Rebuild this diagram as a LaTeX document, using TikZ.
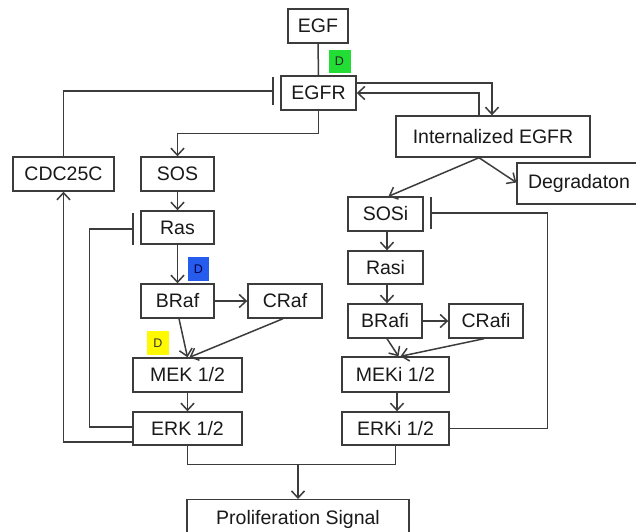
\documentclass[tikz,border=0pt]{standalone}
\usepackage{fontspec}
\setmainfont{Liberation Sans}
\usetikzlibrary{arrows.meta,calc}
\definecolor{ln}{RGB}{60,60,60}
\definecolor{dgreen}{RGB}{34,221,51}
\definecolor{dblue}{RGB}{38,92,238}
\definecolor{dyellow}{RGB}{255,250,0}
\tikzset{
  box/.style={draw=ln, line width=1.4pt, rectangle, inner sep=0pt, fill=white,
    font=\fontsize{19.5}{22}\selectfont, text=black!90},
  conn/.style={draw=ln, line width=1.5pt},
  arr/.style={conn, -{Straight Barb[length=7pt,width=13pt,line width=1.5pt]}},
  inh/.style={conn, -{Bar[width=#1,line width=1.5pt]}, shorten >=6.5pt},
  dtag/.style={rectangle, inner sep=0pt, minimum width=22pt, minimum height=23pt,
    font=\fontsize{12.5}{14}\selectfont}
}
\begin{document}
\begin{tikzpicture}[x=1pt,y=-1pt]
\useasboundingbox (0,0) rectangle (636,531);
% nodes
\node[box, minimum width=60pt, minimum height=34pt] (EGF) at (318,26) {EGF};
\node[box, minimum width=75pt, minimum height=34pt] (EGFR) at (318.5,93) {EGFR};
\node[box, minimum width=194pt, minimum height=41pt] (int) at (493,136.5) {Internalized EGFR};
\node[box, minimum width=122pt, minimum height=41pt, text width=118pt, align=left] (deg) at (578,183.5) {\hspace{9pt}Degradaton};
\node[box, minimum width=101pt, minimum height=34pt] (cdc) at (63.5,174) {CDC25C};
\node[box, minimum width=73pt, minimum height=34pt] (SOS) at (177.5,174) {SOS};
\node[box, minimum width=73pt, minimum height=33pt] (Ras) at (177.5,227.5) {Ras};
\node[box, minimum width=73pt, minimum height=34pt] (BRaf) at (177.5,301) {BRaf};
\node[box, minimum width=74pt, minimum height=34pt] (CRaf) at (285,301) {CRaf};
\node[box, minimum width=109pt, minimum height=34pt] (MEK) at (187.5,375) {MEK 1/2};
\node[box, minimum width=109pt, minimum height=33pt] (ERK) at (187.5,428.5) {ERK 1/2};
\node[box, minimum width=75pt, minimum height=34pt] (SOSi) at (385.5,214) {SOSi};
\node[box, minimum width=75pt, minimum height=33pt] (Rasi) at (385.5,267.5) {Rasi};
\node[box, minimum width=74pt, minimum height=34pt] (BRafi) at (385,321) {BRafi};
\node[box, minimum width=74pt, minimum height=34pt] (CRafi) at (486,321) {CRafi};
\node[box, minimum width=107pt, minimum height=35pt] (MEKi) at (395.5,374.5) {MEKi 1/2};
\node[box, minimum width=107pt, minimum height=33pt] (ERKi) at (395.5,428.5) {ERKi 1/2};
\node[box, minimum width=222pt, minimum height=40pt, anchor=north] (prol) at (298,499) {\raisebox{5pt}{Proliferation Signal}};
% tags
\node[dtag, fill=dgreen, text=black!85] (tg) at (339.5,61.5) {D};
\node[dtag, fill=dblue, text=blue!30!black, minimum width=21pt, minimum height=24pt] (tb) at (198.5,269) {D};
\node[dtag, fill=dyellow, text=black!80, minimum height=24pt] (ty) at (158,343) {D};
% connectors
\draw[conn] (EGF.south) -- (EGFR.north);
\draw[arr] ([yshift=10pt]EGFR.east) -| ([xshift=-1pt]int.north);
\draw[arr] ([xshift=-14pt]int.north) |- (EGFR.east);
\draw[arr] (EGFR.south) -- ++(0,23) -| (SOS.north);
\draw[arr] ([xshift=-14pt]int.south) -- ([xshift=3pt]SOSi.north);
\draw[arr] ([xshift=-14pt]int.south) -- ([yshift=1pt]deg.west);
\draw[arr] ([xshift=1.5pt]SOSi.south) -- ([xshift=1.5pt]Rasi.north);
\draw[arr] ([xshift=1.5pt]Rasi.south) -- ([xshift=2pt]BRafi.north);
\draw[arr] (BRafi.east) -- (CRafi.west);
\draw[arr] ([xshift=2pt]BRafi.south) -- ([xshift=3pt]MEKi.north);
\draw[arr] ([xshift=-2pt]CRafi.south) -- ([xshift=5pt]MEKi.north);
\draw[arr] ([xshift=1.5pt]MEKi.south) -- ([xshift=1.5pt]ERKi.north);
\draw[inh=32pt] (ERKi.east) -- ++(98,0) |- ([yshift=1pt]SOSi.east);
\draw[arr] (SOS.south) -- (Ras.north);
\draw[arr] (Ras.south) -- (BRaf.north);
\draw[arr] (BRaf.east) -- (CRaf.west);
\draw[arr] ([xshift=1.5pt]BRaf.south) -- (MEK.north);
\draw[arr] ([xshift=-2pt]CRaf.south) -- ([xshift=2pt]MEK.north);
\draw[arr] (MEK.south) -- (ERK.north);
\draw[inh=32pt] ([yshift=1.5pt]ERK.west) -- ++(-43,0) |- ([yshift=-1.5pt]Ras.west);
\draw[arr] ([yshift=-13.5pt]ERK.west) -| (cdc.south);
\draw[inh=28pt] (cdc.north) |- ([yshift=2pt]EGFR.west);
\coordinate (merge) at (298,464);
\draw[conn] (ERK.south) -- ++(0,19) -| (ERKi.south);
\draw[arr] (merge) -- (prol.north);
\end{tikzpicture}
\end{document}
